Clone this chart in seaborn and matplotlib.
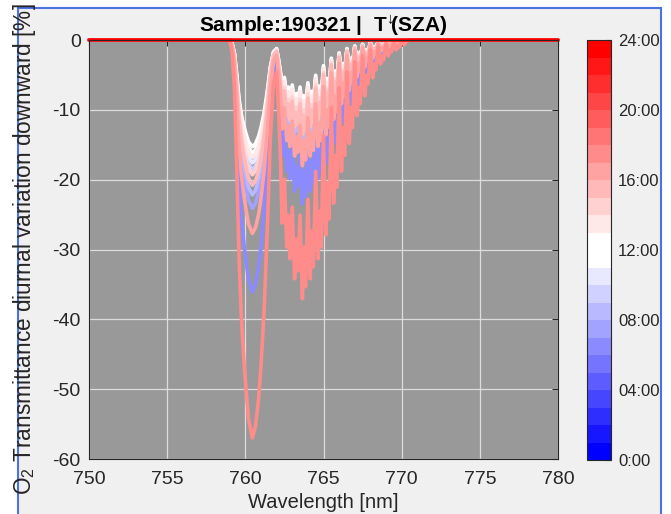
import numpy as np
import pandas as pd
import matplotlib
matplotlib.use("Agg")
import matplotlib.pyplot as plt
import seaborn as sns
from matplotlib.colors import ListedColormap, BoundaryNorm
from matplotlib.cm import ScalarMappable
from matplotlib.patches import Rectangle

# ---------------- data ----------------
# O2 A-band profile, as fraction of each curve's deepest value
wavelength = [750.0, 759.00, 759.15, 759.30, 759.45, 759.60, 759.75, 759.90, 760.05, 760.20,
              760.45, 760.65, 760.85, 761.00, 761.20, 761.40, 761.60, 761.80,
              762.00, 762.15, 762.25, 762.35, 762.50, 762.65, 762.75, 762.85,
              763.00, 763.15, 763.25, 763.35, 763.50, 763.65, 763.75, 763.85,
              764.00, 764.15, 764.25, 764.35, 764.50, 764.65, 764.75, 764.85,
              765.00, 765.15, 765.25, 765.35, 765.50, 765.65, 765.75, 765.85,
              766.00, 766.15, 766.25, 766.35, 766.50, 766.65, 766.75, 766.85,
              767.00, 767.15, 767.25, 767.35, 767.50, 767.65, 767.75, 767.85,
              768.00, 768.15, 768.25, 768.35, 768.50, 768.65, 768.75, 768.85,
              769.00, 769.15, 769.25, 769.35, 769.50, 769.65, 769.75, 769.85,
              770.00, 770.15, 770.30, 770.50, 780.0]
band_shape = [0.0, 0.00, 0.03, 0.12, 0.32, 0.55, 0.70, 0.80, 0.88, 0.95,
              1.00, 0.97, 0.90, 0.82, 0.68, 0.48, 0.25, 0.11,
              0.08, 0.20, 0.30, 0.46, 0.35, 0.52, 0.44, 0.55,
              0.42, 0.60, 0.50, 0.58, 0.44, 0.65, 0.52, 0.62,
              0.40, 0.60, 0.48, 0.57, 0.33, 0.55, 0.43, 0.52,
              0.24, 0.49, 0.36, 0.45, 0.17, 0.41, 0.29, 0.37,
              0.12, 0.33, 0.22, 0.29, 0.08, 0.26, 0.17, 0.22,
              0.055, 0.19, 0.12, 0.16, 0.04, 0.14, 0.09, 0.11,
              0.025, 0.095, 0.06, 0.075, 0.015, 0.06, 0.04, 0.05,
              0.01, 0.04, 0.025, 0.03, 0.005, 0.025, 0.015, 0.018,
              0.003, 0.012, 0.004, 0.0, 0.0]
assert len(wavelength) == len(band_shape)

# time of each curve (hours) and its deepest transmittance variation [%]
curve_hours = [6.5, 7.5, 8.5, 9.5, 10.5, 11.5, 12.5, 13.5, 14.5, 15.5, 16.5, 17.5, 23.5]
curve_depths = [36.1, 24.1, 22.2, 18.6, 17.6, 16.2, 15.3, 16.8, 19.3, 20.8, 27.7, 57.0, 0.0]

x_ticks = [750, 755, 760, 765, 770, 775, 780]
y_ticks = [0, -10, -20, -30, -40, -50, -60]
cbar_ticks = [0, 4, 8, 12, 16, 20, 24]
cbar_labels = ["0:00", "04:00", "08:00", "12:00", "16:00", "20:00", "24:00"]

title_text = r"Sample:190321 |  T$^{\!\downarrow}\!\!$(SZA)"
xlabel_text = "Wavelength [nm]"
ylabel_text = r"O$_2$ Transmittance diurnal variation downward [%]"

# ---------------- style ----------------
sns.set_theme(style="white")
plt.rcParams['font.family'] = ['Liberation Sans', 'DejaVu Sans']
plt.rcParams['axes.unicode_minus'] = False
plt.rcParams['mathtext.fontset'] = 'custom'
plt.rcParams['mathtext.rm'] = 'Liberation Sans'
plt.rcParams['mathtext.bf'] = 'Liberation Sans:bold'

# 24-step blue-white-red colormap (one band per hour)
cols = []
for i in range(24):
    if i <= 10:
        t = i / 11
        cols.append((t, t, 1.0))
    elif i <= 12:
        cols.append((1.0, 1.0, 1.0))
    else:
        t = (i - 12) / 11
        cols.append((1.0, 1.0 - t, 1.0 - t))
cmap = ListedColormap(cols)
norm = BoundaryNorm(np.arange(25), 24)

# long-form table
rows = []
for h, d in zip(curve_hours, curve_depths):
    lab = f"h{h:04.1f}"
    for wl, f in zip(wavelength, band_shape):
        rows.append((lab, wl, -d * f))
df = pd.DataFrame(rows, columns=["time", "wl", "val"])
hue_order = [f"h{h:04.1f}" for h in curve_hours]
palette = {f"h{h:04.1f}": cols[int(h)] for h in curve_hours}

# ---------------- figure ----------------
fig = plt.figure(figsize=(6.71, 5.14), dpi=100)
fig.patch.set_facecolor('white')
frame = Rectangle((18 / 671, -0.02), (661 - 18) / 671, (514 - 8) / 514 + 0.02,
                  transform=fig.transFigure, facecolor='#F0F0F0',
                  edgecolor='#4A72E0', lw=1.5, zorder=-10)
fig.add_artist(frame)

ax = fig.add_axes([89 / 671, 55 / 514, 469 / 671, 419 / 514])
cax = fig.add_axes([587 / 671, 54 / 514, 24 / 671, 420 / 514])

ax.set_facecolor('#999999')
sns.lineplot(data=df, x="wl", y="val", hue="time", hue_order=hue_order,
             palette=palette, estimator=None, sort=False, legend=False,
             lw=2.6, ax=ax)
for ln in ax.get_lines():
    ln.set_clip_on(False)
    ln.set_solid_joinstyle('round')

ax.set_xlim(750, 780)
ax.set_ylim(-60, 0)
ax.set_xticks(x_ticks)
ax.set_yticks(y_ticks)
ax.set_xticklabels([str(v) for v in x_ticks])
ax.set_yticklabels([str(v) for v in y_ticks])
ax.grid(True, color='#DCDCDC', lw=0.9)
ax.set_axisbelow(True)
ax.tick_params(direction='in', top=True, right=True, length=4, width=0.8,
               labelsize=14, colors='#262626', pad=6)
ax.tick_params(axis='x', pad=9)
for sp in ax.spines.values():
    sp.set_color('#262626')
    sp.set_linewidth(0.8)

ax.set_title(title_text, fontsize=15, fontweight='bold', pad=6, color='black')
ax.set_xlabel(xlabel_text, fontsize=14.5, color='#262626')
ax.set_ylabel(ylabel_text, fontsize=16.3, color='#262626')
ax.xaxis.set_label_coords(0.5, -0.081)
ax.yaxis.set_label_coords(-0.108, 0.5)

cb = fig.colorbar(ScalarMappable(norm=norm, cmap=cmap), cax=cax, ticks=cbar_ticks)
cb.ax.set_yticklabels(cbar_labels)
cax.minorticks_off()
cax.tick_params(direction='in', length=4, width=0.8, labelsize=12, pad=5, colors='#262626')
cb.outline.set_linewidth(0.8)
cb.outline.set_edgecolor('#262626')

fig.savefig("out.png", dpi=100)
